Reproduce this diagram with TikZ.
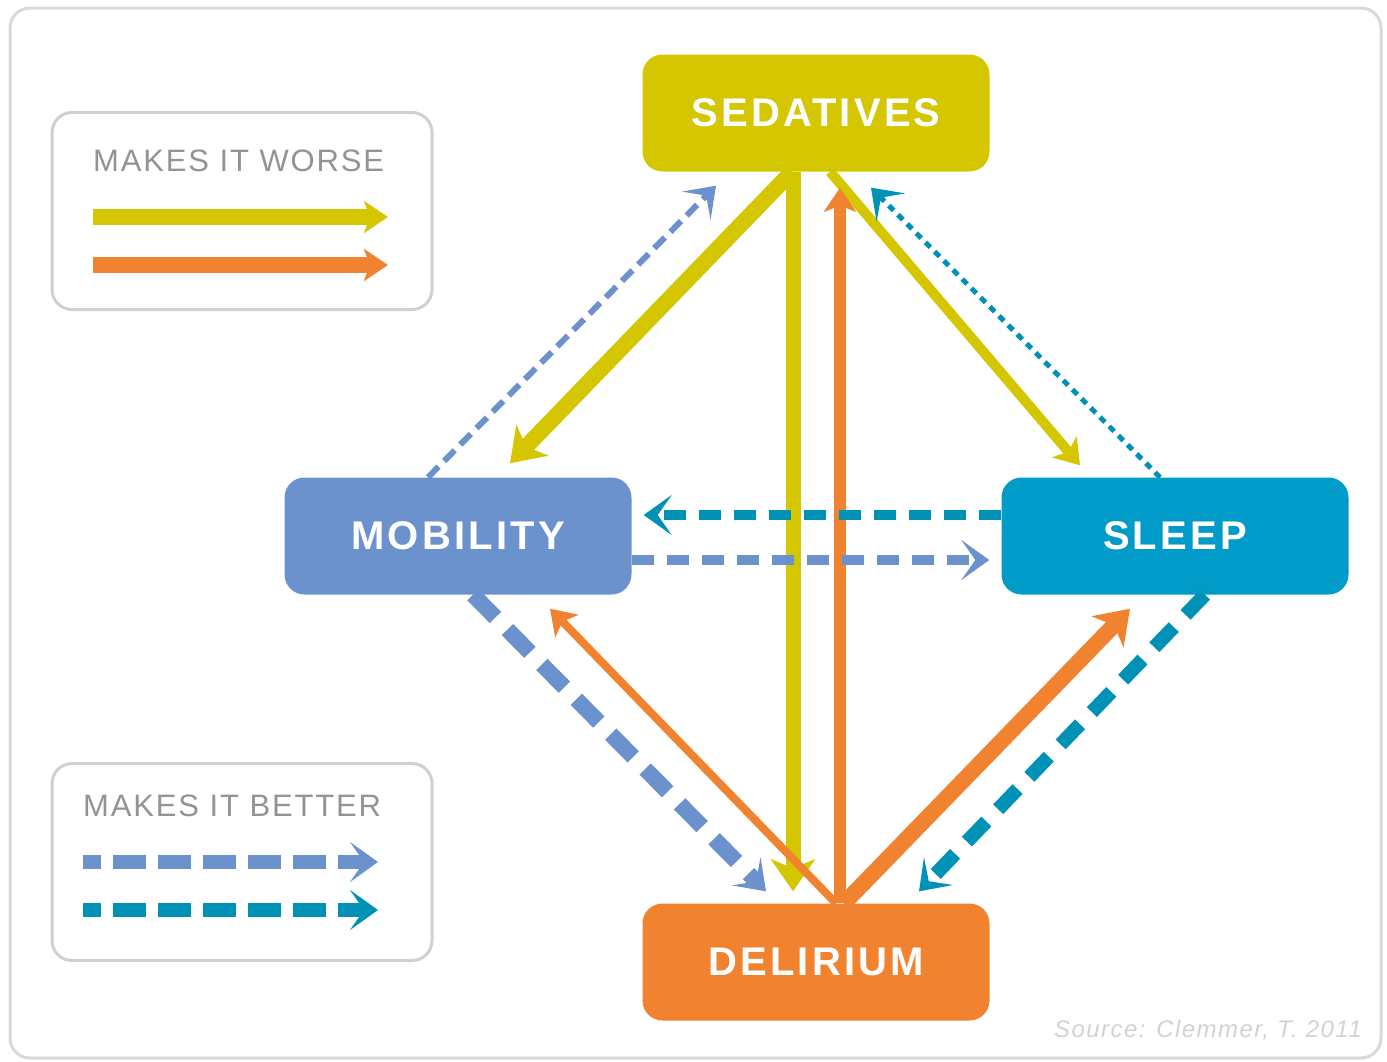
\documentclass[tikz,border=0pt]{standalone}
\usepackage{fontspec}
\usetikzlibrary{arrows.meta}
\newfontfamily\boxfont[LetterSpace=8]{Liberation Sans}
\newfontfamily\legfont[LetterSpace=6]{Liberation Sans}
\definecolor{sedcol}{RGB}{212,198,0}
\definecolor{mobcol}{RGB}{108,146,206}
\definecolor{slpcol}{RGB}{0,155,200}
\definecolor{delcol}{RGB}{241,131,48}
\definecolor{tealcol}{RGB}{0,146,182}
\definecolor{legline}{RGB}{208,208,208}
\tikzset{
  box/.style = {rounded corners=20pt, minimum width=347pt, minimum height=117pt, inner sep=0pt, text=white, font=\boxfont\bfseries\fontsize{40}{40}\selectfont},
  box_sed/.style = {box, fill=sedcol},
  box_mob/.style = {box, fill=mobcol},
  box_slp/.style = {box, fill=slpcol},
  box_del/.style = {box, fill=delcol},
  legbox/.style = {draw=legline, line width=3pt, rounded corners=20pt, minimum width=380pt, minimum height=197pt},
  legtext/.style = {anchor=west, inner sep=0pt, text=gray!85, font=\legfont\fontsize{31}{31}\selectfont},
  arr_worse/.style = {-{Stealth[length=32pt,width=44pt,inset=9pt]}},
  arr_thin/.style = {-{Stealth[length=24pt,width=32pt,inset=6pt]}},
  arr_better/.style = {-{Stealth[length=28pt,width=40pt,inset=14pt]}}
}
\begin{document}
\begin{tikzpicture}[x=1pt,y=-1pt]
\useasboundingbox (0,0) rectangle (1387,1061);
\draw[gray!30, line width=3pt, rounded corners=20pt] (10,8) rectangle (1381,1058);

% the four factors
\node [box_sed] (sed) at (816,113) {SEDATIVES};
\node [box_mob] (mob) at (458,536) {MOBILITY};
\node [box_slp] (slp) at (1175,536) {SLEEP};
\node [box_del] (del) at (816,962) {DELIRIUM};

% makes it worse
\draw[arr_worse, sedcol, line width=16pt] ([xshift=-24pt]sed.south) -- ([xshift=52pt,yshift=14pt]mob.north);
\draw[arr_worse, sedcol, line width=15pt] ([xshift=-23pt]sed.south) -- ([xshift=-23pt,yshift=12pt]del.north);
\draw[arr_thin, sedcol, line width=10pt] ([xshift=14pt]sed.south) -- ([xshift=-95pt,yshift=12pt]slp.north);
\draw[arr_thin, delcol, line width=12pt] ([xshift=24pt]del.north) -- ([xshift=24pt,yshift=-16pt]sed.south);
\draw[arr_thin, delcol, line width=8pt] ([xshift=20pt]del.north) -- ([xshift=92pt,yshift=-14pt]mob.south);
\draw[arr_worse, delcol, line width=16pt] ([xshift=28pt]del.north) -- ([xshift=-45pt,yshift=-14pt]slp.south);

% makes it better
\draw[arr_better, mobcol, line width=6pt, dash pattern=on 15pt off 8pt] ([xshift=-30pt]mob.north) -- ([xshift=-100pt,yshift=-14pt]sed.south);
\draw[arr_better, tealcol, line width=5pt, dash pattern=on 7pt off 6pt] ([xshift=-15pt]slp.north) -- ([xshift=55pt,yshift=-16pt]sed.south);
\draw[arr_better, tealcol, line width=10pt, dash pattern=on 22pt off 13pt] ([yshift=21pt]slp.west) -- ([xshift=12pt,yshift=21pt]mob.east);
\draw[arr_better, mobcol, line width=10pt, dash pattern=on 22pt off 13pt] ([yshift=-24pt]mob.east) -- ([xshift=-12pt,yshift=-24pt]slp.west);
\draw[arr_better, mobcol, line width=16pt, dash pattern=on 32pt off 17pt] ([xshift=15pt]mob.south) -- ([xshift=-50pt,yshift=12pt]del.north);
\draw[arr_better, tealcol, line width=14pt, dash pattern=on 28pt off 17pt] ([xshift=30pt]slp.south) -- ([xshift=103pt,yshift=12pt]del.north);

% legends
\node [legbox] (leg1) at (242,211) {};
\node [legtext] (worse) at (93,161) {MAKES IT WORSE};
\coordinate (w1) at ([xshift=-149pt,yshift=-6pt]leg1.center);
\coordinate (w2) at ([xshift=-149pt,yshift=-54pt]leg1.center);
\draw[arr_thin, sedcol, line width=16pt] (w1) -- ([xshift=295pt]w1);
\draw[arr_thin, delcol, line width=16pt] (w2) -- ([xshift=295pt]w2);

\node [legbox] (leg2) at (242,862) {};
\node [legtext] (better) at (83,806) {MAKES IT BETTER};
\coordinate (b1) at ([xshift=-159pt]leg2.center);
\coordinate (b2) at ([xshift=-159pt,yshift=-48pt]leg2.center);
\draw[arr_better, mobcol, line width=14pt, dash pattern=on 33pt off 12pt, dash phase=15pt] (b1) -- ([xshift=295pt]b1);
\draw[arr_better, tealcol, line width=14pt, dash pattern=on 33pt off 12pt, dash phase=15pt] (b2) -- ([xshift=295pt]b2);

\node [anchor=east, inner sep=0pt, text=gray!35, font=\legfont\itshape\fontsize{24}{24}\selectfont] (src) at (1362,1030) {Source: Clemmer, T. 2011};
\end{tikzpicture}
\end{document}
